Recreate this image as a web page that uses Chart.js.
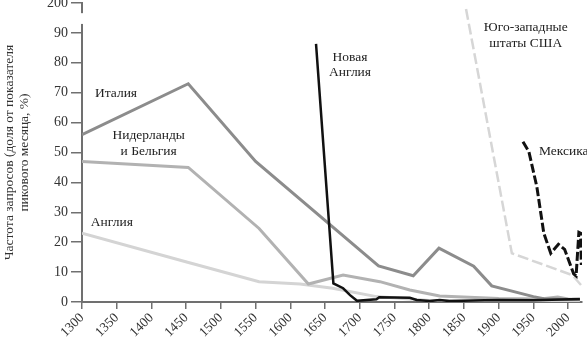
<!DOCTYPE html>
<html>
<head>
<meta charset="utf-8">
<script src="https://cdn.jsdelivr.net/npm/chart.js@4.4.1/dist/chart.umd.min.js"></script>
<style>
  html, body { margin: 0; padding: 0; background: #fff; }
  #wrap { width: 587px; height: 343px; }
</style>
</head>
<body>
<div id="wrap"><canvas id="myChart"></canvas></div>
<script>
// values; 100 on the y scale stands for the "200" tick (axis is broken)
var italyYears = [1300, 1453, 1550, 1727, 1777, 1814, 1864, 1890, 1950, 1965, 2000, 2017];
var italyVals  = [56, 73, 47, 12.1, 8.8, 18, 12, 5.4, 1.8, 1.1, 0.8, 0.8];

var nlYears = [1300, 1453, 1555, 1626, 1676, 1729, 1772, 1815, 1900, 1960, 1985, 2000, 2017];
var nlVals  = [47, 45, 24.6, 6, 9, 6.8, 4, 2, 1.2, 1, 1.7, 1, 0.8];

var engYears = [1300, 1452, 1555, 1614, 1661, 1724, 1800, 1850, 1950, 2017];
var engVals  = [23, 13.3, 6.8, 6, 4.6, 1.8, 0.5, 0.2, 0.2, 0.2];

var neYears = [1637, 1662, 1676, 1686, 1696, 1724, 1728, 1772, 1782, 1801, 1815, 1829, 1880, 1901, 1950, 2017];
var neVals  = [86.3, 6.2, 4.6, 2.3, 0.4, 0.9, 1.6, 1.4, 0.7, 0.3, 0.7, 0.3, 0.6, 0.7, 0.6, 1];

var swYears = [1853, 1919, 2006, 2020];
var swVals  = [98, 16.3, 9, 5.3];

var mexYears = [1935, 1943.5, 1955, 1965, 1975, 1986, 1995, 2008, 2011.5, 2015.5, 2018, 2019];
var mexVals  = [53.6, 50.3, 38.5, 23, 16.3, 19.3, 17.6, 9.4, 8.7, 23.3, 23, 12.4];

var xTicks = [1300, 1350, 1400, 1450, 1500, 1550, 1600, 1650, 1700, 1750, 1800, 1850, 1900, 1950, 2000];
var yTicks = [0, 10, 20, 30, 40, 50, 60, 70, 80, 90, 100];
var yTickLabels = ['0', '10', '20', '30', '40', '50', '60', '70', '80', '90', '200'];

var axisTitle = ['Частота запросов (доля от показателя', 'пикового месяца, %)'];

function pts(xs, ys){
  return xs.map(function(x, i){ return {x: x, y: ys[i]}; });
}

var serif = '"Liberation Serif", "DejaVu Serif", serif';
var axisColor = '#707070';

// text notes placed in data coordinates
var notes = [
  {lines: ['Италия'], x: 1349, y: 69.7, align: 'center'},
  {lines: ['Нидерланды', 'и Бельгия'], x: 1396, y: 55.6, align: 'center'},
  {lines: ['Англия'], x: 1343, y: 26.5, align: 'center'},
  {lines: ['Новая', 'Англия'], x: 1686, y: 81.8, align: 'center'},
  {lines: ['Юго-западные', 'штаты США'], x: 1939, y: 91.7, align: 'center'},
  {lines: ['Мексика'], x: 1958, y: 50.3, align: 'left'}
];

var notesPlugin = {
  id: 'notes',
  afterDraw: function(chart){
    var ctx = chart.ctx;
    var xs = chart.scales.x, ys = chart.scales.y;
    ctx.save();
    // axis break between 90 and 200
    ctx.fillStyle = '#fff';
    var top = ys.getPixelForValue(96.6), bot = ys.getPixelForValue(93);
    ctx.fillRect(chart.chartArea.left - 3, top, 6, bot - top);
    ctx.font = '13.5px ' + serif;
    ctx.fillStyle = '#222';
    ctx.textBaseline = 'middle';
    notes.forEach(function(n){
      ctx.textAlign = n.align;
      n.lines.forEach(function(t, i){
        ctx.fillText(t, xs.getPixelForValue(n.x), ys.getPixelForValue(n.y) + i * 15.5);
      });
    });
    ctx.restore();
  }
};

// first dataset is painted on top, so the black series come first
new Chart(document.getElementById('myChart'), {
  type: 'line',
  data: {
    datasets: [
      {label: 'Новая Англия', data: pts(neYears, neVals), borderColor: '#111', borderWidth: 2.5},
      {label: 'Мексика', data: pts(mexYears, mexVals), borderColor: '#111', borderWidth: 3, borderDash: [9, 3]},
      {label: 'Италия', data: pts(italyYears, italyVals), borderColor: '#8c8c8c', borderWidth: 3},
      {label: 'Нидерланды и Бельгия', data: pts(nlYears, nlVals), borderColor: '#b2b2b2', borderWidth: 3},
      {label: 'Юго-западные штаты США', data: pts(swYears, swVals), borderColor: '#d6d6d6', borderWidth: 2.5, borderDash: [11, 4]},
      {label: 'Англия', data: pts(engYears, engVals), borderColor: '#d4d4d4', borderWidth: 3}
    ]
  },
  options: {
    responsive: true,
    maintainAspectRatio: false,
    animation: false,
    layout: {padding: {top: 3, right: 5, left: 0, bottom: 0}},
    elements: {point: {radius: 0}, line: {tension: 0, fill: false}},
    plugins: {legend: {display: false}, tooltip: {enabled: false}},
    scales: {
      x: {
        type: 'linear',
        min: 1300,
        max: 2020,
        afterBuildTicks: function(s){ s.ticks = xTicks.map(function(v){ return {value: v}; }); },
        afterFit: function(s){ s.height = 41; s.paddingLeft = 0; s.paddingRight = 0; },
        ticks: {minRotation: 45, maxRotation: 45, padding: 1, color: '#333', font: {family: serif, size: 13.5},
                callback: function(v){ return String(v); }},
        grid: {drawOnChartArea: false, drawTicks: true, tickLength: 7, color: axisColor, lineWidth: 1.5},
        border: {color: axisColor, width: 2}
      },
      y: {
        min: 0,
        max: 100,
        afterBuildTicks: function(s){ s.ticks = yTicks.map(function(v){ return {value: v}; }); },
        afterFit: function(s){ s.width = 82; s.paddingTop = 0; s.paddingBottom = 0; },
        ticks: {padding: 3, color: '#333', font: {family: serif, size: 14},
                callback: function(v){ return yTickLabels[yTicks.indexOf(v)]; }},
        grid: {drawOnChartArea: false, drawTicks: true, tickLength: 11, color: axisColor, lineWidth: 1.5},
        border: {color: axisColor, width: 2},
        title: {display: true, text: axisTitle, color: '#333', padding: {top: 2, bottom: 0},
                font: {family: serif, size: 13.5, lineHeight: 1.1}}
      }
    }
  },
  plugins: [notesPlugin]
});
</script>
</body>
</html>
